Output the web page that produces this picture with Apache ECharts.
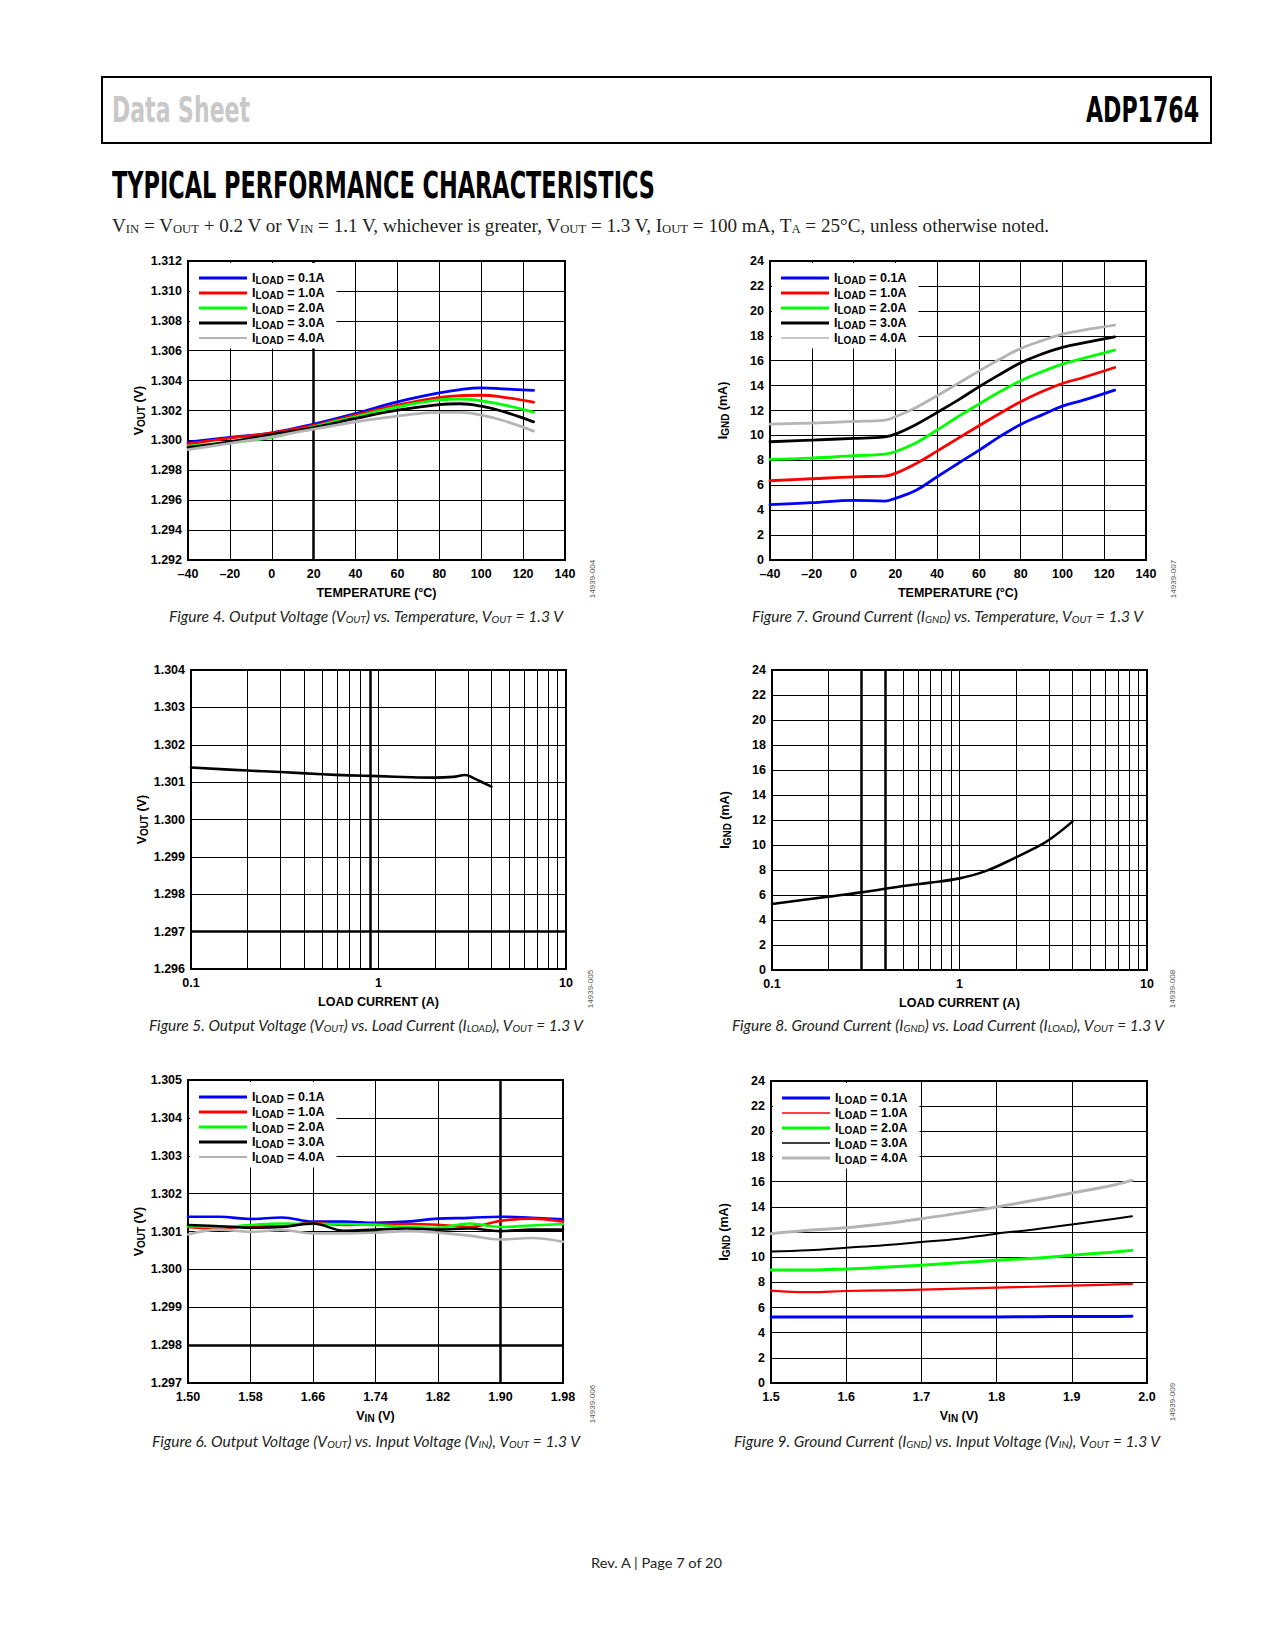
<!DOCTYPE html>
<html>
<head>
<meta charset="utf-8">
<script src="https://cdn.jsdelivr.net/npm/echarts/dist/echarts.min.js"></script>
<style>
  html, body { margin:0; padding:0; background:#fff; }
  #page { position:relative; width:1275px; height:1650px; overflow:hidden; background:#fff; }
  #chart { position:absolute; left:0; top:0; width:1275px; height:1650px; }
  .t { position:absolute; white-space:nowrap; line-height:1; transform-origin:left top; }
  .hdr { font-family:"Liberation Sans Narrow","DejaVu Sans Condensed",sans-serif; font-weight:bold; }
  .cap { font-family:Lato,"Noto Sans",sans-serif; font-style:italic; font-size:15.5px; color:#231f20; }
  .cap sub, .sub sub { font-size:0.66em; vertical-align:-0.12em; line-height:0; }
  .sub { font-family:"Liberation Serif",serif; font-size:18px; color:#231f20; }
  .id { position:absolute; white-space:nowrap; font-family:"Liberation Sans",Arial,sans-serif; font-size:8px; color:#555; transform:translate(-50%,-50%) rotate(-90deg); }
  #box { position:absolute; left:101px; top:76px; width:1111px; height:68px; border:2px solid #000; box-sizing:border-box; }
</style>
</head>
<body>
<div id="page">
  <div id="chart"></div>
  <div id="box"></div>
  <div class="t hdr" data-w="138" style="left:112px;top:93px;font-size:35px;color:#c8c8c8;">Data Sheet</div>
  <div class="t hdr" data-w="113" style="left:1086px;top:93px;font-size:35px;color:#000;">ADP1764</div>
  <div class="t hdr" data-w="543" style="left:112px;top:166px;font-size:38px;color:#000;">TYPICAL PERFORMANCE CHARACTERISTICS</div>
  <div class="t sub" data-w="937" style="left:112px;top:217px;">V<sub>IN</sub> = V<sub>OUT</sub> + 0.2 V or V<sub>IN</sub> = 1.1 V, whichever is greater, V<sub>OUT</sub> = 1.3 V, I<sub>OUT</sub> = 100 mA, T<sub>A</sub> = 25°C, unless otherwise noted.</div>

  <div class="t cap" data-w="394" style="left:169px;top:609px;">Figure 4. Output Voltage (V<sub>OUT</sub>) vs. Temperature, V<sub>OUT</sub> = 1.3 V</div>
  <div class="t cap" data-w="391" style="left:752px;top:609px;">Figure 7. Ground Current (I<sub>GND</sub>) vs. Temperature, V<sub>OUT</sub> = 1.3 V</div>
  <div class="t cap" data-w="434" style="left:149px;top:1018px;">Figure 5. Output Voltage (V<sub>OUT</sub>) vs. Load Current (I<sub>LOAD</sub>), V<sub>OUT</sub> = 1.3 V</div>
  <div class="t cap" data-w="432" style="left:732px;top:1018px;">Figure 8. Ground Current (I<sub>GND</sub>) vs. Load Current (I<sub>LOAD</sub>), V<sub>OUT</sub> = 1.3 V</div>
  <div class="t cap" data-w="428" style="left:152px;top:1434px;">Figure 6. Output Voltage (V<sub>OUT</sub>) vs. Input Voltage (V<sub>IN</sub>), V<sub>OUT</sub> = 1.3 V</div>
  <div class="t cap" data-w="426" style="left:734px;top:1434px;">Figure 9. Ground Current (I<sub>GND</sub>) vs. Input Voltage (V<sub>IN</sub>), V<sub>OUT</sub> = 1.3 V</div>

  <div class="t cap" data-w="131" style="left:591px;top:1557px;font-style:normal;font-size:13.5px;">Rev. A | Page 7 of 20</div>

  <div class="id" style="left:592px;top:579px;">14939-004</div>
  <div class="id" style="left:1173px;top:579px;">14939-007</div>
  <div class="id" style="left:590px;top:989px;">14939-005</div>
  <div class="id" style="left:1172px;top:989px;">14939-008</div>
  <div class="id" style="left:592px;top:1404px;">14939-006</div>
  <div class="id" style="left:1172px;top:1402px;">14939-009</div>
</div>
<script>
// ---------------- DATA ----------------
const loads = ['0.1A', '1.0A', '2.0A', '3.0A', '4.0A'];
const loadColors = ['#0000ff', '#ff0000', '#00ff00', '#000000', '#b4b4b4'];

// Figure 4: VOUT (V) vs temperature (°C)
const f4Temp = [-40, -20, 0, 20, 40, 60, 80, 90, 100, 110, 125];
const f4Vout01 = [1.29988, 1.30020, 1.30051, 1.30109, 1.30180, 1.30258, 1.30318, 1.30340, 1.30351, 1.30345, 1.30334];
const f4Vout10 = [1.29977, 1.30015, 1.30050, 1.30100, 1.30169, 1.30236, 1.30287, 1.30300, 1.30302, 1.30290, 1.30256];
const f4Vout20 = [1.29962, 1.29986, 1.30020, 1.30091, 1.30158, 1.30224, 1.30271, 1.30277, 1.30265, 1.30240, 1.30189];
const f4Vout30 = [1.29953, 1.29990, 1.30040, 1.30086, 1.30147, 1.30202, 1.30240, 1.30245, 1.30229, 1.30195, 1.30124];
const f4Vout40 = [1.29939, 1.29980, 1.30024, 1.30075, 1.30124, 1.30162, 1.30187, 1.30187, 1.30169, 1.30135, 1.30062];

// Figure 7: IGND (mA) vs temperature (°C)
const f7Temp = [-40, -20, 0, 15, 20, 30, 40, 50, 60, 70, 80, 90, 100, 110, 125];
const f7Ignd01 = [4.44, 4.60, 4.79, 4.73, 4.95, 5.60, 6.68, 7.75, 8.80, 9.90, 10.88, 11.63, 12.35, 12.83, 13.64];
const f7Ignd10 = [6.36, 6.52, 6.68, 6.74, 6.95, 7.75, 8.74, 9.76, 10.78, 11.76, 12.70, 13.50, 14.17, 14.65, 15.45];
const f7Ignd20 = [8.07, 8.18, 8.37, 8.50, 8.69, 9.41, 10.43, 11.50, 12.51, 13.50, 14.39, 15.10, 15.72, 16.18, 16.84];
const f7Ignd30 = [9.49, 9.63, 9.76, 9.89, 10.10, 10.88, 11.84, 12.83, 13.90, 14.89, 15.83, 16.52, 17.06, 17.43, 17.91];
const f7Ignd40 = [10.91, 10.99, 11.12, 11.23, 11.50, 12.25, 13.18, 14.17, 15.16, 16.12, 16.98, 17.59, 18.13, 18.45, 18.85];

// Figure 5: VOUT (V) vs load current (A)
const f5Iload = [0.1, 0.2, 0.3, 0.5, 0.7, 1.0, 1.5, 2.0, 2.5, 2.9, 3.3, 3.6, 4.0];
const f5Vout = [1.30139, 1.30131, 1.30127, 1.30121, 1.30118, 1.30116, 1.30113, 1.30112, 1.30114, 1.30119, 1.30108, 1.30099, 1.30088];

// Figure 8: IGND (mA) vs load current (A)
const f8Iload = [0.1, 0.2, 0.3, 0.5, 0.7, 1.0, 1.4, 2.0, 2.5, 3.0, 4.0];
const f8Ignd = [5.28, 5.87, 6.21, 6.72, 6.99, 7.33, 7.95, 9.01, 9.73, 10.40, 11.87];

// Figure 6: VOUT (V) vs VIN (V)
const f6Vin = [1.50, 1.54, 1.58, 1.62, 1.66, 1.70, 1.74, 1.78, 1.82, 1.86, 1.90, 1.94, 1.98];
const f6Vout01 = [1.30139, 1.30139, 1.30133, 1.30137, 1.30126, 1.30126, 1.30123, 1.30126, 1.30134, 1.30136, 1.30139, 1.30136, 1.30132];
const f6Vout10 = [1.30112, 1.30108, 1.30114, 1.30114, 1.30123, 1.30117, 1.30120, 1.30120, 1.30118, 1.30112, 1.30128, 1.30134, 1.30126];
const f6Vout20 = [1.30114, 1.30112, 1.30117, 1.30121, 1.30120, 1.30120, 1.30117, 1.30112, 1.30110, 1.30121, 1.30112, 1.30116, 1.30120];
const f6Vout30 = [1.30117, 1.30114, 1.30110, 1.30112, 1.30121, 1.30102, 1.30105, 1.30108, 1.30105, 1.30108, 1.30101, 1.30105, 1.30105];
const f6Vout40 = [1.30092, 1.30105, 1.30099, 1.30104, 1.30095, 1.30095, 1.30097, 1.30101, 1.30097, 1.30089, 1.30079, 1.30083, 1.30073];

// Figure 9: IGND (mA) vs VIN (V)
const f9Vin = [1.50, 1.55, 1.60, 1.65, 1.70, 1.75, 1.80, 1.85, 1.90, 1.95, 1.98];
const f9Ignd01 = [5.24, 5.24, 5.24, 5.24, 5.24, 5.24, 5.25, 5.27, 5.28, 5.29, 5.30];
const f9Ignd10 = [7.34, 7.22, 7.31, 7.36, 7.42, 7.50, 7.58, 7.65, 7.74, 7.82, 7.87];
const f9Ignd20 = [8.98, 8.98, 9.06, 9.20, 9.36, 9.55, 9.75, 9.92, 10.15, 10.38, 10.54];
const f9Ignd30 = [10.46, 10.55, 10.75, 10.95, 11.20, 11.47, 11.87, 12.20, 12.60, 13.00, 13.25];
const f9Ignd40 = [11.87, 12.13, 12.34, 12.66, 13.06, 13.50, 13.99, 14.52, 15.10, 15.66, 16.10];

// Axis tick values
const f6VinTicks = [1.50, 1.58, 1.66, 1.74, 1.82, 1.90, 1.98];
const logMinorTicks = [0.2, 0.3, 0.4, 0.5, 0.6, 0.7, 0.8, 0.9, 2, 3, 4, 5, 6, 7, 8, 9];

// ---------------- LAYOUT / STYLE ----------------
const FONT = '"Liberation Sans", Arial, Helvetica, sans-serif';
const FS = 12.5;
const grids = [
  { left: 188, top: 261, width: 377, height: 299 },  // Fig 4
  { left: 770, top: 261, width: 376, height: 299 },  // Fig 7
  { left: 191, top: 670, width: 375, height: 299 },  // Fig 5
  { left: 772, top: 670, width: 375, height: 300 },  // Fig 8
  { left: 188, top: 1080, width: 375, height: 303 }, // Fig 6
  { left: 771, top: 1081, width: 376, height: 302 }  // Fig 9
];

const richStyles = {
  m: { fontFamily: FONT, fontWeight: 'bold', fontSize: FS, color: '#000', lineHeight: 14.6 },
  s: { fontFamily: FONT, fontWeight: 'bold', fontSize: 10, color: '#000', lineHeight: 9.6, padding: [5, 0, 0, 0] }
};
const labelStyle = { color: '#000', fontFamily: FONT, fontWeight: 'bold', fontSize: FS };
const gridLine = { show: true, lineStyle: { color: '#000', width: 1 } };

function minusFmt(v) { return v < 0 ? '\u2013' + Math.abs(v) : String(v); }

function xAxis(gi, opt) {
  return Object.assign({
    type: 'value', gridIndex: gi,
    axisLine: { show: false }, axisTick: { show: false },
    splitLine: gridLine,
    axisLabel: Object.assign({ margin: 7 }, labelStyle),
    nameLocation: 'middle', nameGap: 26,
    nameTextStyle: Object.assign({ rich: richStyles }, labelStyle)
  }, opt);
}
function yAxis(gi, opt) {
  return Object.assign({
    type: 'value', gridIndex: gi,
    axisLine: { show: false }, axisTick: { show: false },
    splitLine: gridLine,
    axisLabel: Object.assign({ margin: 6 }, labelStyle),
    nameLocation: 'middle', nameGap: 40,
    nameTextStyle: Object.assign({ rich: richStyles }, labelStyle)
  }, opt);
}
function line(name, gi, xs, ys, color, width) {
  return {
    type: 'line', name: name, xAxisIndex: gi, yAxisIndex: gi,
    data: xs.map((x, i) => [x, ys[i]]),
    symbol: 'none', showSymbol: false, smooth: 0.4,
    lineStyle: { color: color, width: width, cap: 'round', join: 'round' }, itemStyle: { color: color },
    z: 3, silent: true, animation: false
  };
}
function guides(gi, xVals, yVals, width) {
  return {
    type: 'line', xAxisIndex: gi, yAxisIndex: gi, data: [], z: 1, silent: true, animation: false,
    markLine: {
      z: 1, silent: true, symbol: 'none', animation: false, precision: 6,
      label: { show: false }, emphasis: { disabled: true },
      lineStyle: { color: '#000', width: width, type: 'solid' },
      data: xVals.map(v => ({ xAxis: v })).concat(yVals.map(v => ({ yAxis: v })))
    }
  };
}
function legend(gi, fig, widths) {
  return {
    left: grids[gi].left + 2, top: grids[gi].top + 2, orient: 'vertical',
    backgroundColor: '#fff', padding: [7.5, 12, 3, 9],
    itemWidth: 48, itemHeight: 12, itemGap: 0, symbolKeepAspect: true,
    selectedMode: false, z: 10,
    data: loads.map((l, i) => ({
      name: fig + ' ' + l,
      icon: 'path://M0,0H48V' + (widths[i]) + 'H0Z'
    })),
    formatter: n => '{m|I}{s|LOAD}{m| = ' + n.split(' ')[1] + '}',
    textStyle: { rich: richStyles }
  };
}

const f4Sets = [f4Vout01, f4Vout10, f4Vout20, f4Vout30, f4Vout40];
const f7Sets = [f7Ignd01, f7Ignd10, f7Ignd20, f7Ignd30, f7Ignd40];
const f6Sets = [f6Vout01, f6Vout10, f6Vout20, f6Vout30, f6Vout40];
const f9Sets = [f9Ignd01, f9Ignd10, f9Ignd20, f9Ignd30, f9Ignd40];
const f9Widths = [3, 2.2, 3, 2, 3];

const series = [];
// Fig 4
series.push(guides(0, [20], [], 2.5));
f4Sets.forEach((ys, i) => series.push(line('F4 ' + loads[i], 0, f4Temp, ys, loadColors[i], 2.8)));
// Fig 7
f7Sets.forEach((ys, i) => series.push(line('F7 ' + loads[i], 1, f7Temp, ys, loadColors[i], 2.8)));
// Fig 5
series.push(guides(2, logMinorTicks.filter(v => v !== 0.9), [], 1));
series.push(guides(2, [0.9], [1.297], 2.5));
series.push(line('F5', 2, f5Iload, f5Vout, '#000', 2.6));
// Fig 8
series.push(guides(3, logMinorTicks.filter(v => v !== 0.3 && v !== 0.4), [], 1));
series.push(guides(3, [0.3, 0.4], [], 2.5));
series.push(line('F8', 3, f8Iload, f8Ignd, '#000', 2.6));
// Fig 6
series.push(guides(4, f6VinTicks.filter(v => v !== 1.90), [], 1));
series.push(guides(4, [1.90], [1.298], 2.5));
f6Sets.forEach((ys, i) => series.push(line('F6 ' + loads[i], 4, f6Vin, ys, loadColors[i], 2.6)));
// Fig 9
f9Sets.forEach((ys, i) => series.push(line('F9 ' + loads[i], 5, f9Vin, ys, loadColors[i], f9Widths[i])));

const voutName = '{m|V}{s|OUT}{m| (V)}';
const igndName = '{m|I}{s|GND}{m| (mA)}';
const vinName = '{m|V}{s|IN}{m| (V)}';
const logFmt = v => String(+(+v).toPrecision(3));

const option = {
  animation: false,
  grid: grids.map(g => Object.assign({ show: true, borderColor: '#000', borderWidth: 2, backgroundColor: 'transparent', containLabel: false }, g)),
  xAxis: [
    xAxis(0, { min: -40, max: 140, interval: 20, name: 'TEMPERATURE (°C)', axisLabel: Object.assign({ margin: 7, formatter: minusFmt }, labelStyle) }),
    xAxis(1, { min: -40, max: 140, interval: 20, name: 'TEMPERATURE (°C)', axisLabel: Object.assign({ margin: 7, formatter: minusFmt }, labelStyle) }),
    xAxis(2, { type: 'log', logBase: 10, min: 0.1, max: 10, name: 'LOAD CURRENT (A)', axisLabel: Object.assign({ margin: 7, formatter: logFmt }, labelStyle) }),
    xAxis(3, { type: 'log', logBase: 10, min: 0.1, max: 10, name: 'LOAD CURRENT (A)', axisLabel: Object.assign({ margin: 7, formatter: logFmt }, labelStyle) }),
    xAxis(4, { min: 1.50, max: 1.98, name: vinName, splitLine: { show: false },
      axisLabel: Object.assign({ margin: 7, customValues: f6VinTicks, formatter: v => (+v).toFixed(2) }, labelStyle) }),
    xAxis(5, { min: 1.5, max: 2.0, interval: 0.1, name: vinName, axisLabel: Object.assign({ margin: 7, formatter: v => (+v).toFixed(1) }, labelStyle) })
  ],
  yAxis: [
    yAxis(0, { min: 1.292, max: 1.312, interval: 0.002, name: voutName, axisLabel: Object.assign({ margin: 6, formatter: v => (+v).toFixed(3) }, labelStyle) }),
    yAxis(1, { min: 0, max: 24, interval: 2, name: igndName }),
    yAxis(2, { min: 1.296, max: 1.304, interval: 0.001, name: voutName, axisLabel: Object.assign({ margin: 6, formatter: v => (+v).toFixed(3) }, labelStyle) }),
    yAxis(3, { min: 0, max: 24, interval: 2, name: igndName }),
    yAxis(4, { min: 1.297, max: 1.305, interval: 0.001, name: voutName, axisLabel: Object.assign({ margin: 6, formatter: v => (+v).toFixed(3) }, labelStyle) }),
    yAxis(5, { min: 0, max: 24, interval: 2, name: igndName })
  ],
  legend: [
    legend(0, 'F4', [3, 3, 3, 3, 2.2]),
    legend(1, 'F7', [3, 3, 3, 3, 1.5]),
    legend(4, 'F6', [3, 3, 3, 3, 2]),
    legend(5, 'F9', [3, 1.6, 3, 1.6, 3])
  ],
  series: series
};

const chart = echarts.init(document.getElementById('chart'), null, { renderer: 'svg', width: 1275, height: 1650 });
chart.setOption(option);

function fitText() {
  document.querySelectorAll('[data-w]').forEach(el => {
    el.style.transform = 'none';
    const w = el.getBoundingClientRect().width;
    if (w > 0) el.style.transform = 'scaleX(' + (parseFloat(el.dataset.w) / w) + ')';
  });
}
fitText();
if (document.fonts && document.fonts.ready) document.fonts.ready.then(fitText);
</script>
</body>
</html>
